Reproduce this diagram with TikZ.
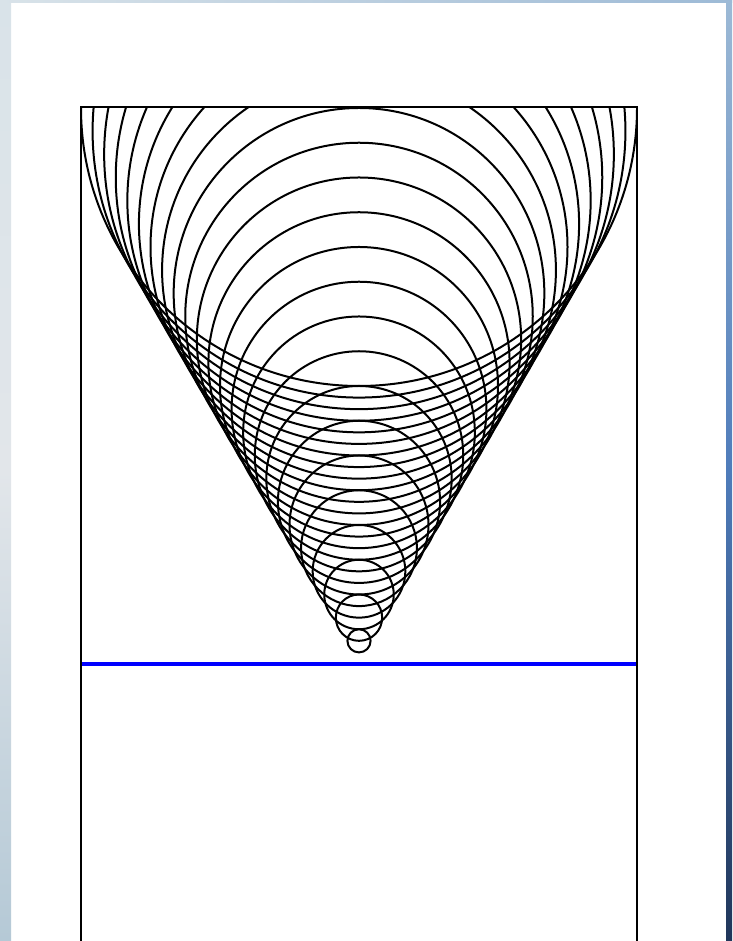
\documentclass[tikz,border=0pt]{standalone}
\usepackage{xcolor}
\usepackage{tikz}

\definecolor{frametop}{HTML}{D9E3E9}
\definecolor{framemid}{HTML}{E2E6EA}
\definecolor{framelow}{HTML}{B5C9D6}
\definecolor{rimtop}{HTML}{9DBAD6}
\definecolor{rimmid}{HTML}{4F7CBA}
\definecolor{rimlow}{HTML}{20365A}

\begin{document}
\begin{tikzpicture}[x=1pt,y=1pt,
    ring/.style={black,line width=2pt},
    wall/.style={black,line width=2.2pt},
    base/.style={blue,line width=4.5pt}]
  \useasboundingbox (0,0) rectangle (732,941);

  % window frame behind the white sheet
  \fill[white] (0,0) rectangle (732,941);
  \shade[top color=frametop,bottom color=framelow,middle color=framemid]
    (0,0) rectangle (11,941);
  \shade[top color=rimtop,bottom color=rimlow,middle color=rimmid]
    (726,0) rectangle (732,941);
  \shade[left color=frametop,right color=rimtop]
    (0,938) rectangle (732,941);

  % nested circles inside the cone, apex on the blue line
  \begin{scope}
    \clip (81,0) rectangle (637,834);
    \foreach \k in {1,...,24}
      \draw[ring] (359,{277+2*\k*278/24}) circle ({\k*278/24});
  \end{scope}

  % box
  \draw[wall] (81,0) -- (81,834) -- (637,834) -- (637,0);

  % base line
  \draw[base] (82,277) -- (636,277);
\end{tikzpicture}
\end{document}
